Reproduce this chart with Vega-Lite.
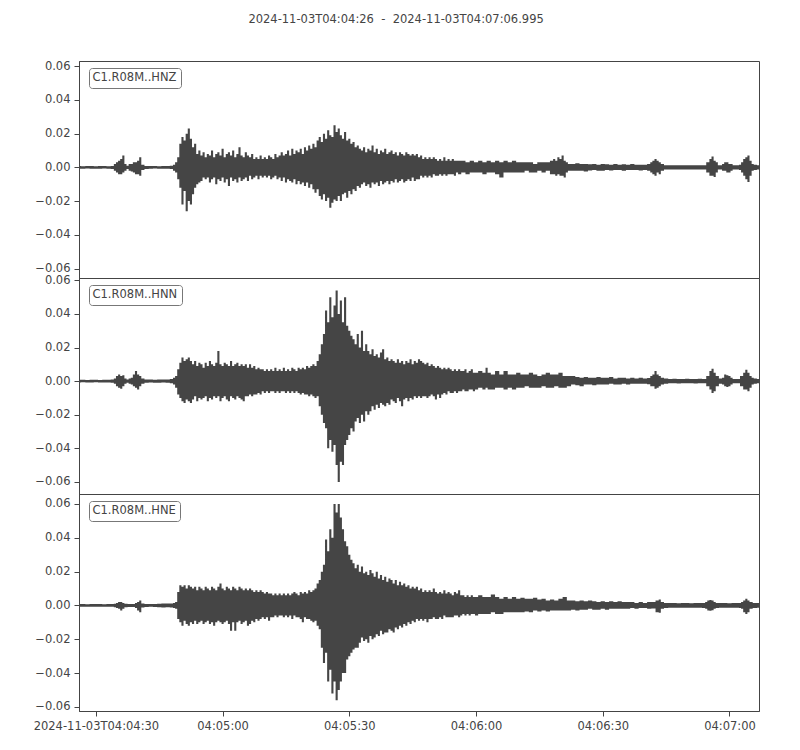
{
  "$schema": "https://vega.github.io/schema/vega-lite/v6.json",
  "description": "Three-component accelerogram, station C1.R08M, 2024-11-03",
  "padding": {"left": 32, "top": 14, "right": 35, "bottom": 5},
  "bounds": "flush",
  "title": {
    "text": "2024-11-03T04:04:26\u00a0 -\u00a0 2024-11-03T04:07:06.995",
    "anchor": "middle",
    "frame": "bounds",
    "font": "DejaVu Sans",
    "fontSize": 11.5,
    "fontWeight": "normal",
    "color": "#444",
    "offset": 34
  },
  "datasets": {
    "Z": [
      {"t":0,"h":0.0008,"l":-0.0008},{"t":1,"h":0.0007,"l":-0.0008},{"t":2,"h":0.0008,"l":-0.0007},{"t":3,"h":0.0008,"l":-0.0008},
      {"t":4,"h":0.0007,"l":-0.0008},{"t":5,"h":0.0008,"l":-0.0008},{"t":6,"h":0.0008,"l":-0.0007},{"t":7,"h":0.0007,"l":-0.0008},
      {"t":8,"h":0.0009,"l":-0.0009},{"t":8.5,"h":0.002,"l":-0.002},{"t":9,"h":0.003,"l":-0.003},{"t":9.5,"h":0.004,"l":-0.004},
      {"t":10,"h":0.005,"l":-0.004},{"t":10.5,"h":0.007,"l":-0.003},{"t":11,"h":0.002,"l":-0.002},{"t":11.5,"h":0.001,"l":-0.001},
      {"t":12,"h":0.002,"l":-0.002},{"t":12.5,"h":0.002,"l":-0.0025},{"t":13,"h":0.003,"l":-0.003},{"t":13.5,"h":0.003,"l":-0.004},
      {"t":14,"h":0.004,"l":-0.004},{"t":14.5,"h":0.006,"l":-0.005},{"t":15,"h":0.0015,"l":-0.0015},{"t":16,"h":0.0009,"l":-0.0009},
      {"t":17,"h":0.0008,"l":-0.0008},{"t":18,"h":0.0008,"l":-0.0007},{"t":19,"h":0.0007,"l":-0.0008},{"t":20,"h":0.0008,"l":-0.0008},
      {"t":21,"h":0.0009,"l":-0.0008},{"t":22,"h":0.001,"l":-0.001},{"t":22.5,"h":0.0015,"l":-0.002},{"t":23,"h":0.003,"l":-0.003},
      {"t":23.5,"h":0.006,"l":-0.007},{"t":24,"h":0.014,"l":-0.012},{"t":24.5,"h":0.018,"l":-0.022},{"t":25,"h":0.016,"l":-0.014},
      {"t":25.5,"h":0.02,"l":-0.026},{"t":26,"h":0.023,"l":-0.02},{"t":26.5,"h":0.017,"l":-0.022},{"t":27,"h":0.012,"l":-0.016},
      {"t":27.5,"h":0.014,"l":-0.012},{"t":28,"h":0.008,"l":-0.01},{"t":28.5,"h":0.01,"l":-0.009},{"t":29,"h":0.007,"l":-0.008},
      {"t":29.5,"h":0.009,"l":-0.006},{"t":30,"h":0.006,"l":-0.007},{"t":30.5,"h":0.008,"l":-0.006},{"t":31,"h":0.007,"l":-0.009},
      {"t":31.5,"h":0.01,"l":-0.007},{"t":32,"h":0.006,"l":-0.006},{"t":32.5,"h":0.008,"l":-0.01},{"t":33,"h":0.009,"l":-0.007},
      {"t":33.5,"h":0.007,"l":-0.008},{"t":34,"h":0.011,"l":-0.006},{"t":34.5,"h":0.006,"l":-0.009},{"t":35,"h":0.008,"l":-0.007},
      {"t":35.5,"h":0.009,"l":-0.011},{"t":36,"h":0.007,"l":-0.006},{"t":36.5,"h":0.01,"l":-0.008},{"t":37,"h":0.006,"l":-0.007},
      {"t":37.5,"h":0.008,"l":-0.009},{"t":38,"h":0.012,"l":-0.006},{"t":38.5,"h":0.007,"l":-0.008},{"t":39,"h":0.006,"l":-0.007},
      {"t":39.5,"h":0.009,"l":-0.006},{"t":40,"h":0.007,"l":-0.008},{"t":40.5,"h":0.006,"l":-0.005},{"t":41,"h":0.008,"l":-0.007},
      {"t":41.5,"h":0.005,"l":-0.006},{"t":42,"h":0.006,"l":-0.005},{"t":42.5,"h":0.005,"l":-0.007},{"t":43,"h":0.007,"l":-0.005},
      {"t":43.5,"h":0.005,"l":-0.006},{"t":44,"h":0.006,"l":-0.005},{"t":44.5,"h":0.005,"l":-0.006},{"t":45,"h":0.007,"l":-0.005},
      {"t":45.5,"h":0.006,"l":-0.007},{"t":46,"h":0.005,"l":-0.006},{"t":46.5,"h":0.008,"l":-0.005},{"t":47,"h":0.006,"l":-0.007},
      {"t":47.5,"h":0.007,"l":-0.006},{"t":48,"h":0.009,"l":-0.008},{"t":48.5,"h":0.007,"l":-0.006},{"t":49,"h":0.008,"l":-0.009},
      {"t":49.5,"h":0.01,"l":-0.007},{"t":50,"h":0.007,"l":-0.008},{"t":50.5,"h":0.011,"l":-0.009},{"t":51,"h":0.008,"l":-0.007},
      {"t":51.5,"h":0.01,"l":-0.01},{"t":52,"h":0.009,"l":-0.008},{"t":52.5,"h":0.011,"l":-0.01},{"t":53,"h":0.008,"l":-0.009},
      {"t":53.5,"h":0.012,"l":-0.011},{"t":54,"h":0.01,"l":-0.009},{"t":54.5,"h":0.013,"l":-0.012},{"t":55,"h":0.011,"l":-0.01},
      {"t":55.5,"h":0.014,"l":-0.013},{"t":56,"h":0.012,"l":-0.015},{"t":56.5,"h":0.016,"l":-0.013},{"t":57,"h":0.018,"l":-0.017},
      {"t":57.5,"h":0.015,"l":-0.019},{"t":58,"h":0.02,"l":-0.016},{"t":58.5,"h":0.017,"l":-0.02},{"t":59,"h":0.022,"l":-0.018},
      {"t":59.5,"h":0.019,"l":-0.024},{"t":60,"h":0.018,"l":-0.021},{"t":60.5,"h":0.025,"l":-0.019},{"t":61,"h":0.021,"l":-0.02},
      {"t":61.5,"h":0.023,"l":-0.017},{"t":62,"h":0.019,"l":-0.02},{"t":62.5,"h":0.017,"l":-0.016},{"t":63,"h":0.021,"l":-0.015},
      {"t":63.5,"h":0.016,"l":-0.018},{"t":64,"h":0.017,"l":-0.014},{"t":64.5,"h":0.014,"l":-0.016},{"t":65,"h":0.015,"l":-0.013},
      {"t":65.5,"h":0.012,"l":-0.014},{"t":66,"h":0.013,"l":-0.011},{"t":66.5,"h":0.011,"l":-0.012},{"t":67,"h":0.01,"l":-0.01},
      {"t":67.5,"h":0.012,"l":-0.009},{"t":68,"h":0.009,"l":-0.011},{"t":68.5,"h":0.011,"l":-0.01},{"t":69,"h":0.01,"l":-0.012},
      {"t":69.5,"h":0.013,"l":-0.009},{"t":70,"h":0.009,"l":-0.01},{"t":70.5,"h":0.011,"l":-0.009},{"t":71,"h":0.008,"l":-0.011},
      {"t":71.5,"h":0.01,"l":-0.008},{"t":72,"h":0.009,"l":-0.01},{"t":72.5,"h":0.011,"l":-0.009},{"t":73,"h":0.008,"l":-0.008},
      {"t":73.5,"h":0.009,"l":-0.01},{"t":74,"h":0.01,"l":-0.008},{"t":74.5,"h":0.008,"l":-0.009},{"t":75,"h":0.009,"l":-0.007},
      {"t":75.5,"h":0.007,"l":-0.009},{"t":76,"h":0.009,"l":-0.008},{"t":76.5,"h":0.008,"l":-0.007},{"t":77,"h":0.007,"l":-0.009},
      {"t":77.5,"h":0.009,"l":-0.008},{"t":78,"h":0.008,"l":-0.007},{"t":78.5,"h":0.007,"l":-0.008},{"t":79,"h":0.008,"l":-0.006},
      {"t":79.5,"h":0.007,"l":-0.008},{"t":80,"h":0.008,"l":-0.007},{"t":80.5,"h":0.006,"l":-0.007},{"t":81,"h":0.007,"l":-0.005},
      {"t":81.5,"h":0.005,"l":-0.006},{"t":82,"h":0.006,"l":-0.005},{"t":82.5,"h":0.005,"l":-0.006},{"t":83,"h":0.006,"l":-0.005},
      {"t":83.5,"h":0.005,"l":-0.006},{"t":84,"h":0.006,"l":-0.004},{"t":84.5,"h":0.005,"l":-0.005},{"t":85,"h":0.004,"l":-0.005},
      {"t":85.5,"h":0.005,"l":-0.004},{"t":86,"h":0.004,"l":-0.005},{"t":86.5,"h":0.006,"l":-0.004},{"t":87,"h":0.004,"l":-0.005},
      {"t":87.5,"h":0.005,"l":-0.004},{"t":88,"h":0.004,"l":-0.004},{"t":88.5,"h":0.005,"l":-0.004},{"t":89,"h":0.004,"l":-0.005},
      {"t":89.5,"h":0.004,"l":-0.003},{"t":90,"h":0.004,"l":-0.004},{"t":91,"h":0.004,"l":-0.003},{"t":92,"h":0.003,"l":-0.004},
      {"t":93,"h":0.004,"l":-0.003},{"t":94,"h":0.003,"l":-0.003},{"t":95,"h":0.004,"l":-0.003},{"t":96,"h":0.003,"l":-0.004},
      {"t":97,"h":0.004,"l":-0.003},{"t":98,"h":0.003,"l":-0.003},{"t":99,"h":0.004,"l":-0.004},{"t":100,"h":0.003,"l":-0.006},
      {"t":101,"h":0.004,"l":-0.003},{"t":102,"h":0.003,"l":-0.003},{"t":103,"h":0.004,"l":-0.003},{"t":104,"h":0.003,"l":-0.003},
      {"t":105,"h":0.003,"l":-0.003},{"t":106,"h":0.003,"l":-0.002},{"t":107,"h":0.003,"l":-0.003},{"t":108,"h":0.002,"l":-0.003},
      {"t":109,"h":0.003,"l":-0.002},{"t":110,"h":0.003,"l":-0.003},{"t":111,"h":0.003,"l":-0.002},{"t":112,"h":0.004,"l":-0.004},
      {"t":112.5,"h":0.005,"l":-0.004},{"t":113,"h":0.004,"l":-0.005},{"t":113.5,"h":0.006,"l":-0.004},{"t":114,"h":0.005,"l":-0.005},
      {"t":114.5,"h":0.007,"l":-0.005},{"t":115,"h":0.004,"l":-0.006},{"t":115.5,"h":0.003,"l":-0.003},{"t":116,"h":0.002,"l":-0.002},
      {"t":117,"h":0.002,"l":-0.002},{"t":118,"h":0.0025,"l":-0.002},{"t":119,"h":0.002,"l":-0.002},{"t":120,"h":0.002,"l":-0.0025},
      {"t":121,"h":0.0018,"l":-0.0018},{"t":122,"h":0.002,"l":-0.0015},{"t":123,"h":0.0015,"l":-0.002},{"t":124,"h":0.002,"l":-0.002},
      {"t":125,"h":0.0018,"l":-0.0015},{"t":126,"h":0.0015,"l":-0.0018},{"t":127,"h":0.002,"l":-0.0015},{"t":128,"h":0.0015,"l":-0.0015},
      {"t":129,"h":0.0018,"l":-0.002},{"t":130,"h":0.0015,"l":-0.0015},{"t":131,"h":0.002,"l":-0.0015},{"t":132,"h":0.0015,"l":-0.0015},
      {"t":133,"h":0.0015,"l":-0.0018},{"t":134,"h":0.0015,"l":-0.0015},{"t":135,"h":0.002,"l":-0.002},{"t":135.5,"h":0.003,"l":-0.003},
      {"t":136,"h":0.004,"l":-0.004},{"t":136.5,"h":0.005,"l":-0.005},{"t":137,"h":0.004,"l":-0.003},{"t":137.5,"h":0.003,"l":-0.004},
      {"t":138,"h":0.002,"l":-0.002},{"t":139,"h":0.0013,"l":-0.0013},{"t":140,"h":0.0012,"l":-0.0012},{"t":141,"h":0.0013,"l":-0.0012},
      {"t":142,"h":0.0012,"l":-0.0013},{"t":143,"h":0.0012,"l":-0.0012},{"t":144,"h":0.0013,"l":-0.0012},{"t":145,"h":0.0012,"l":-0.0012},
      {"t":146,"h":0.0012,"l":-0.0013},{"t":147,"h":0.0013,"l":-0.0012},{"t":148,"h":0.0012,"l":-0.0012},{"t":149,"h":0.003,"l":-0.003},
      {"t":149.5,"h":0.005,"l":-0.005},{"t":150,"h":0.0065,"l":-0.005},{"t":150.5,"h":0.004,"l":-0.0057},{"t":151,"h":0.003,"l":-0.003},
      {"t":151.5,"h":0.0013,"l":-0.0013},{"t":152,"h":0.0013,"l":-0.0013},{"t":152.5,"h":0.002,"l":-0.002},{"t":153,"h":0.003,"l":-0.002},
      {"t":153.5,"h":0.003,"l":-0.003},{"t":154,"h":0.002,"l":-0.003},{"t":154.5,"h":0.002,"l":-0.002},{"t":155,"h":0.0013,"l":-0.0013},
      {"t":156,"h":0.0013,"l":-0.0013},{"t":156.5,"h":0.0015,"l":-0.0015},{"t":157,"h":0.003,"l":-0.003},{"t":157.5,"h":0.005,"l":-0.005},
      {"t":158,"h":0.006,"l":-0.007},{"t":158.5,"h":0.007,"l":-0.0087},{"t":159,"h":0.004,"l":-0.005},{"t":159.5,"h":0.002,"l":-0.002},
      {"t":160,"h":0.0015,"l":-0.0015},{"t":160.99,"h":0.0012,"l":-0.0012}
    ],
    "N": [
      {"t":0,"h":0.0008,"l":-0.0008},{"t":1,"h":0.0008,"l":-0.0007},{"t":2,"h":0.0007,"l":-0.0008},{"t":3,"h":0.0008,"l":-0.0008},
      {"t":4,"h":0.0008,"l":-0.0007},{"t":5,"h":0.0007,"l":-0.0008},{"t":6,"h":0.0008,"l":-0.0008},{"t":7,"h":0.0008,"l":-0.0008},
      {"t":8,"h":0.0009,"l":-0.0009},{"t":8.5,"h":0.0015,"l":-0.0015},{"t":9,"h":0.003,"l":-0.003},{"t":9.5,"h":0.004,"l":-0.004},
      {"t":10,"h":0.003,"l":-0.0045},{"t":10.5,"h":0.0035,"l":-0.003},{"t":11,"h":0.0015,"l":-0.0015},{"t":11.5,"h":0.001,"l":-0.001},
      {"t":12,"h":0.0015,"l":-0.0015},{"t":12.5,"h":0.002,"l":-0.002},{"t":13,"h":0.004,"l":-0.003},{"t":13.5,"h":0.006,"l":-0.004},
      {"t":14,"h":0.004,"l":-0.005},{"t":14.5,"h":0.003,"l":-0.003},{"t":15,"h":0.0015,"l":-0.0015},{"t":16,"h":0.0009,"l":-0.0009},
      {"t":17,"h":0.0009,"l":-0.0008},{"t":18,"h":0.0008,"l":-0.0009},{"t":19,"h":0.0009,"l":-0.0009},{"t":20,"h":0.0009,"l":-0.0008},
      {"t":21,"h":0.001,"l":-0.0009},{"t":22,"h":0.0012,"l":-0.0012},{"t":22.5,"h":0.002,"l":-0.002},{"t":23,"h":0.003,"l":-0.004},
      {"t":23.5,"h":0.007,"l":-0.008},{"t":24,"h":0.011,"l":-0.01},{"t":24.5,"h":0.014,"l":-0.012},{"t":25,"h":0.012,"l":-0.013},
      {"t":25.5,"h":0.013,"l":-0.011},{"t":26,"h":0.014,"l":-0.012},{"t":26.5,"h":0.012,"l":-0.013},{"t":27,"h":0.01,"l":-0.011},
      {"t":27.5,"h":0.012,"l":-0.009},{"t":28,"h":0.009,"l":-0.012},{"t":28.5,"h":0.011,"l":-0.01},{"t":29,"h":0.01,"l":-0.011},
      {"t":29.5,"h":0.008,"l":-0.01},{"t":30,"h":0.011,"l":-0.009},{"t":30.5,"h":0.009,"l":-0.012},{"t":31,"h":0.012,"l":-0.01},
      {"t":31.5,"h":0.01,"l":-0.011},{"t":32,"h":0.009,"l":-0.009},{"t":32.5,"h":0.011,"l":-0.01},{"t":33,"h":0.018,"l":-0.009},
      {"t":33.5,"h":0.01,"l":-0.012},{"t":34,"h":0.009,"l":-0.01},{"t":34.5,"h":0.011,"l":-0.009},{"t":35,"h":0.01,"l":-0.011},
      {"t":35.5,"h":0.009,"l":-0.012},{"t":36,"h":0.012,"l":-0.009},{"t":36.5,"h":0.009,"l":-0.01},{"t":37,"h":0.01,"l":-0.011},
      {"t":37.5,"h":0.011,"l":-0.009},{"t":38,"h":0.009,"l":-0.01},{"t":38.5,"h":0.01,"l":-0.011},{"t":39,"h":0.009,"l":-0.012},
      {"t":39.5,"h":0.01,"l":-0.009},{"t":40,"h":0.008,"l":-0.009},{"t":40.5,"h":0.01,"l":-0.008},{"t":41,"h":0.008,"l":-0.009},
      {"t":41.5,"h":0.009,"l":-0.008},{"t":42,"h":0.007,"l":-0.008},{"t":42.5,"h":0.008,"l":-0.007},{"t":43,"h":0.007,"l":-0.008},
      {"t":43.5,"h":0.007,"l":-0.006},{"t":44,"h":0.006,"l":-0.007},{"t":44.5,"h":0.007,"l":-0.006},{"t":45,"h":0.006,"l":-0.007},
      {"t":45.5,"h":0.007,"l":-0.006},{"t":46,"h":0.006,"l":-0.006},{"t":46.5,"h":0.008,"l":-0.007},{"t":47,"h":0.006,"l":-0.006},
      {"t":47.5,"h":0.007,"l":-0.007},{"t":48,"h":0.006,"l":-0.006},{"t":48.5,"h":0.008,"l":-0.006},{"t":49,"h":0.006,"l":-0.007},
      {"t":49.5,"h":0.007,"l":-0.006},{"t":50,"h":0.006,"l":-0.007},{"t":50.5,"h":0.008,"l":-0.006},{"t":51,"h":0.007,"l":-0.007},
      {"t":51.5,"h":0.006,"l":-0.006},{"t":52,"h":0.008,"l":-0.007},{"t":52.5,"h":0.007,"l":-0.008},{"t":53,"h":0.008,"l":-0.007},
      {"t":53.5,"h":0.007,"l":-0.008},{"t":54,"h":0.009,"l":-0.008},{"t":54.5,"h":0.008,"l":-0.009},{"t":55,"h":0.009,"l":-0.008},
      {"t":55.5,"h":0.01,"l":-0.009},{"t":56,"h":0.009,"l":-0.01},{"t":56.5,"h":0.012,"l":-0.009},{"t":57,"h":0.016,"l":-0.015},
      {"t":57.5,"h":0.022,"l":-0.02},{"t":58,"h":0.028,"l":-0.025},{"t":58.5,"h":0.042,"l":-0.028},{"t":59,"h":0.035,"l":-0.04},
      {"t":59.5,"h":0.05,"l":-0.035},{"t":60,"h":0.038,"l":-0.042},{"t":60.5,"h":0.045,"l":-0.038},{"t":61,"h":0.054,"l":-0.05},
      {"t":61.5,"h":0.04,"l":-0.06},{"t":62,"h":0.048,"l":-0.048},{"t":62.5,"h":0.035,"l":-0.05},{"t":63,"h":0.05,"l":-0.038},
      {"t":63.5,"h":0.033,"l":-0.035},{"t":64,"h":0.03,"l":-0.032},{"t":64.5,"h":0.027,"l":-0.028},{"t":65,"h":0.025,"l":-0.03},
      {"t":65.5,"h":0.022,"l":-0.024},{"t":66,"h":0.028,"l":-0.022},{"t":66.5,"h":0.02,"l":-0.025},{"t":67,"h":0.03,"l":-0.02},
      {"t":67.5,"h":0.018,"l":-0.024},{"t":68,"h":0.022,"l":-0.018},{"t":68.5,"h":0.018,"l":-0.02},{"t":69,"h":0.016,"l":-0.018},
      {"t":69.5,"h":0.019,"l":-0.015},{"t":70,"h":0.015,"l":-0.017},{"t":70.5,"h":0.016,"l":-0.014},{"t":71,"h":0.014,"l":-0.016},
      {"t":71.5,"h":0.017,"l":-0.013},{"t":72,"h":0.019,"l":-0.014},{"t":72.5,"h":0.013,"l":-0.015},{"t":73,"h":0.014,"l":-0.013},
      {"t":73.5,"h":0.012,"l":-0.014},{"t":74,"h":0.013,"l":-0.011},{"t":74.5,"h":0.012,"l":-0.012},{"t":75,"h":0.011,"l":-0.013},
      {"t":75.5,"h":0.013,"l":-0.01},{"t":76,"h":0.011,"l":-0.012},{"t":76.5,"h":0.012,"l":-0.015},{"t":77,"h":0.01,"l":-0.011},
      {"t":77.5,"h":0.012,"l":-0.01},{"t":78,"h":0.011,"l":-0.012},{"t":78.5,"h":0.013,"l":-0.01},{"t":79,"h":0.01,"l":-0.011},
      {"t":79.5,"h":0.012,"l":-0.009},{"t":80,"h":0.011,"l":-0.01},{"t":80.5,"h":0.013,"l":-0.009},{"t":81,"h":0.012,"l":-0.01},
      {"t":81.5,"h":0.011,"l":-0.009},{"t":82,"h":0.01,"l":-0.009},{"t":82.5,"h":0.011,"l":-0.01},{"t":83,"h":0.009,"l":-0.009},
      {"t":83.5,"h":0.01,"l":-0.008},{"t":84,"h":0.009,"l":-0.009},{"t":84.5,"h":0.008,"l":-0.011},{"t":85,"h":0.009,"l":-0.008},
      {"t":85.5,"h":0.008,"l":-0.01},{"t":86,"h":0.007,"l":-0.008},{"t":86.5,"h":0.008,"l":-0.007},{"t":87,"h":0.007,"l":-0.008},
      {"t":87.5,"h":0.008,"l":-0.006},{"t":88,"h":0.007,"l":-0.007},{"t":88.5,"h":0.006,"l":-0.007},{"t":89,"h":0.007,"l":-0.006},
      {"t":89.5,"h":0.006,"l":-0.007},{"t":90,"h":0.007,"l":-0.006},{"t":90.5,"h":0.006,"l":-0.006},{"t":91,"h":0.006,"l":-0.005},
      {"t":91.5,"h":0.007,"l":-0.006},{"t":92,"h":0.005,"l":-0.006},{"t":92.5,"h":0.006,"l":-0.005},{"t":93,"h":0.007,"l":-0.005},
      {"t":93.5,"h":0.005,"l":-0.006},{"t":94,"h":0.005,"l":-0.005},{"t":95,"h":0.006,"l":-0.004},{"t":96,"h":0.005,"l":-0.005},
      {"t":96.5,"h":0.008,"l":-0.004},{"t":97,"h":0.005,"l":-0.005},{"t":98,"h":0.004,"l":-0.005},{"t":99,"h":0.006,"l":-0.004},
      {"t":100,"h":0.004,"l":-0.004},{"t":101,"h":0.006,"l":-0.005},{"t":102,"h":0.004,"l":-0.004},{"t":103,"h":0.004,"l":-0.005},
      {"t":104,"h":0.005,"l":-0.004},{"t":105,"h":0.004,"l":-0.004},{"t":106,"h":0.004,"l":-0.003},{"t":107,"h":0.005,"l":-0.004},
      {"t":108,"h":0.004,"l":-0.004},{"t":109,"h":0.003,"l":-0.004},{"t":110,"h":0.004,"l":-0.003},{"t":111,"h":0.005,"l":-0.004},
      {"t":112,"h":0.004,"l":-0.004},{"t":113,"h":0.004,"l":-0.003},{"t":114,"h":0.005,"l":-0.004},{"t":115,"h":0.003,"l":-0.004},
      {"t":116,"h":0.003,"l":-0.003},{"t":117,"h":0.003,"l":-0.002},{"t":118,"h":0.0025,"l":-0.0025},{"t":119,"h":0.002,"l":-0.003},
      {"t":120,"h":0.0025,"l":-0.002},{"t":121,"h":0.002,"l":-0.002},{"t":122,"h":0.002,"l":-0.0025},{"t":123,"h":0.0025,"l":-0.002},
      {"t":124,"h":0.002,"l":-0.002},{"t":125,"h":0.002,"l":-0.002},{"t":126,"h":0.0025,"l":-0.0015},{"t":127,"h":0.0015,"l":-0.002},
      {"t":128,"h":0.002,"l":-0.002},{"t":129,"h":0.002,"l":-0.0015},{"t":130,"h":0.0015,"l":-0.002},{"t":131,"h":0.002,"l":-0.0015},
      {"t":132,"h":0.0015,"l":-0.0015},{"t":133,"h":0.002,"l":-0.0015},{"t":134,"h":0.0015,"l":-0.0015},{"t":135,"h":0.0018,"l":-0.0018},
      {"t":135.5,"h":0.003,"l":-0.003},{"t":136,"h":0.004,"l":-0.003},{"t":136.5,"h":0.006,"l":-0.0045},{"t":137,"h":0.004,"l":-0.004},
      {"t":137.5,"h":0.003,"l":-0.003},{"t":138,"h":0.002,"l":-0.002},{"t":139,"h":0.0015,"l":-0.0015},{"t":140,"h":0.0013,"l":-0.0013},
      {"t":141,"h":0.0014,"l":-0.0013},{"t":142,"h":0.0013,"l":-0.0014},{"t":143,"h":0.0013,"l":-0.0013},{"t":144,"h":0.0014,"l":-0.0013},
      {"t":145,"h":0.0013,"l":-0.0013},{"t":146,"h":0.0013,"l":-0.0014},{"t":147,"h":0.0014,"l":-0.0013},{"t":148,"h":0.0013,"l":-0.0013},
      {"t":149,"h":0.003,"l":-0.003},{"t":149.5,"h":0.006,"l":-0.005},{"t":150,"h":0.0074,"l":-0.007},{"t":150.5,"h":0.005,"l":-0.006},
      {"t":151,"h":0.003,"l":-0.003},{"t":152,"h":0.0015,"l":-0.0015},{"t":152.5,"h":0.002,"l":-0.002},{"t":153,"h":0.004,"l":-0.003},
      {"t":153.5,"h":0.0035,"l":-0.0035},{"t":154,"h":0.003,"l":-0.003},{"t":154.5,"h":0.002,"l":-0.002},{"t":155,"h":0.0013,"l":-0.0013},
      {"t":156,"h":0.0013,"l":-0.0013},{"t":157,"h":0.003,"l":-0.003},{"t":157.5,"h":0.005,"l":-0.005},{"t":158,"h":0.0068,"l":-0.005},
      {"t":158.5,"h":0.005,"l":-0.006},{"t":159,"h":0.003,"l":-0.004},{"t":159.5,"h":0.002,"l":-0.002},{"t":160,"h":0.0015,"l":-0.0015},
      {"t":160.99,"h":0.0013,"l":-0.0013}
    ],
    "E": [
      {"t":0,"h":0.0008,"l":-0.0008},{"t":1,"h":0.0008,"l":-0.0008},{"t":2,"h":0.0007,"l":-0.0008},{"t":3,"h":0.0008,"l":-0.0007},
      {"t":4,"h":0.0008,"l":-0.0008},{"t":5,"h":0.0008,"l":-0.0008},{"t":6,"h":0.0007,"l":-0.0008},{"t":7,"h":0.0008,"l":-0.0008},
      {"t":8,"h":0.0008,"l":-0.0008},{"t":8.5,"h":0.001,"l":-0.001},{"t":9,"h":0.0015,"l":-0.0015},{"t":9.5,"h":0.002,"l":-0.002},
      {"t":10,"h":0.002,"l":-0.003},{"t":10.5,"h":0.0015,"l":-0.002},{"t":11,"h":0.001,"l":-0.001},{"t":12,"h":0.0009,"l":-0.0009},
      {"t":13,"h":0.0009,"l":-0.0009},{"t":13.5,"h":0.0015,"l":-0.0015},{"t":14,"h":0.002,"l":-0.003},{"t":14.5,"h":0.003,"l":-0.004},
      {"t":15,"h":0.0012,"l":-0.0012},{"t":16,"h":0.0009,"l":-0.0009},{"t":17,"h":0.0009,"l":-0.0008},{"t":18,"h":0.0009,"l":-0.0009},
      {"t":19,"h":0.001,"l":-0.001},{"t":20,"h":0.0012,"l":-0.0012},{"t":21,"h":0.0012,"l":-0.001},{"t":22,"h":0.0012,"l":-0.0012},
      {"t":22.5,"h":0.0015,"l":-0.0015},{"t":23,"h":0.002,"l":-0.002},{"t":23.5,"h":0.008,"l":-0.008},{"t":24,"h":0.012,"l":-0.01},
      {"t":24.5,"h":0.011,"l":-0.012},{"t":25,"h":0.012,"l":-0.009},{"t":25.5,"h":0.01,"l":-0.011},{"t":26,"h":0.012,"l":-0.012},
      {"t":26.5,"h":0.011,"l":-0.01},{"t":27,"h":0.01,"l":-0.011},{"t":27.5,"h":0.011,"l":-0.009},{"t":28,"h":0.009,"l":-0.011},
      {"t":28.5,"h":0.011,"l":-0.01},{"t":29,"h":0.01,"l":-0.009},{"t":29.5,"h":0.009,"l":-0.011},{"t":30,"h":0.011,"l":-0.01},
      {"t":30.5,"h":0.01,"l":-0.009},{"t":31,"h":0.009,"l":-0.011},{"t":31.5,"h":0.011,"l":-0.01},{"t":32,"h":0.01,"l":-0.012},
      {"t":32.5,"h":0.009,"l":-0.01},{"t":33,"h":0.011,"l":-0.009},{"t":33.5,"h":0.013,"l":-0.01},{"t":34,"h":0.01,"l":-0.011},
      {"t":34.5,"h":0.009,"l":-0.01},{"t":35,"h":0.011,"l":-0.009},{"t":35.5,"h":0.01,"l":-0.011},{"t":36,"h":0.009,"l":-0.015},
      {"t":36.5,"h":0.011,"l":-0.01},{"t":37,"h":0.01,"l":-0.015},{"t":37.5,"h":0.009,"l":-0.01},{"t":38,"h":0.011,"l":-0.009},
      {"t":38.5,"h":0.01,"l":-0.011},{"t":39,"h":0.009,"l":-0.01},{"t":39.5,"h":0.01,"l":-0.009},{"t":40,"h":0.009,"l":-0.012},
      {"t":40.5,"h":0.01,"l":-0.011},{"t":41,"h":0.009,"l":-0.009},{"t":41.5,"h":0.008,"l":-0.01},{"t":42,"h":0.009,"l":-0.008},
      {"t":42.5,"h":0.008,"l":-0.009},{"t":43,"h":0.009,"l":-0.008},{"t":43.5,"h":0.008,"l":-0.007},{"t":44,"h":0.007,"l":-0.008},
      {"t":44.5,"h":0.008,"l":-0.007},{"t":45,"h":0.007,"l":-0.009},{"t":45.5,"h":0.007,"l":-0.007},{"t":46,"h":0.006,"l":-0.007},
      {"t":46.5,"h":0.007,"l":-0.006},{"t":47,"h":0.006,"l":-0.007},{"t":47.5,"h":0.007,"l":-0.006},{"t":48,"h":0.006,"l":-0.006},
      {"t":48.5,"h":0.007,"l":-0.007},{"t":49,"h":0.006,"l":-0.006},{"t":49.5,"h":0.007,"l":-0.007},{"t":50,"h":0.006,"l":-0.006},
      {"t":50.5,"h":0.007,"l":-0.008},{"t":51,"h":0.008,"l":-0.006},{"t":51.5,"h":0.007,"l":-0.007},{"t":52,"h":0.006,"l":-0.007},
      {"t":52.5,"h":0.008,"l":-0.008},{"t":53,"h":0.007,"l":-0.01},{"t":53.5,"h":0.008,"l":-0.007},{"t":54,"h":0.007,"l":-0.008},
      {"t":54.5,"h":0.009,"l":-0.008},{"t":55,"h":0.008,"l":-0.009},{"t":55.5,"h":0.009,"l":-0.01},{"t":56,"h":0.01,"l":-0.009},
      {"t":56.5,"h":0.013,"l":-0.012},{"t":57,"h":0.015,"l":-0.014},{"t":57.5,"h":0.02,"l":-0.025},{"t":58,"h":0.024,"l":-0.034},
      {"t":58.5,"h":0.039,"l":-0.028},{"t":59,"h":0.032,"l":-0.045},{"t":59.5,"h":0.045,"l":-0.038},{"t":60,"h":0.04,"l":-0.052},
      {"t":60.5,"h":0.06,"l":-0.045},{"t":61,"h":0.055,"l":-0.056},{"t":61.5,"h":0.06,"l":-0.05},{"t":62,"h":0.052,"l":-0.045},
      {"t":62.5,"h":0.045,"l":-0.04},{"t":63,"h":0.038,"l":-0.04},{"t":63.5,"h":0.035,"l":-0.032},{"t":64,"h":0.03,"l":-0.03},
      {"t":64.5,"h":0.027,"l":-0.028},{"t":65,"h":0.025,"l":-0.026},{"t":65.5,"h":0.022,"l":-0.025},{"t":66,"h":0.024,"l":-0.025},
      {"t":66.5,"h":0.02,"l":-0.022},{"t":67,"h":0.023,"l":-0.019},{"t":67.5,"h":0.019,"l":-0.021},{"t":68,"h":0.02,"l":-0.02},
      {"t":68.5,"h":0.018,"l":-0.022},{"t":69,"h":0.021,"l":-0.018},{"t":69.5,"h":0.019,"l":-0.02},{"t":70,"h":0.017,"l":-0.019},
      {"t":70.5,"h":0.02,"l":-0.017},{"t":71,"h":0.016,"l":-0.018},{"t":71.5,"h":0.018,"l":-0.015},{"t":72,"h":0.015,"l":-0.017},
      {"t":72.5,"h":0.017,"l":-0.016},{"t":73,"h":0.014,"l":-0.016},{"t":73.5,"h":0.016,"l":-0.014},{"t":74,"h":0.015,"l":-0.015},
      {"t":74.5,"h":0.013,"l":-0.016},{"t":75,"h":0.015,"l":-0.013},{"t":75.5,"h":0.012,"l":-0.014},{"t":76,"h":0.014,"l":-0.012},
      {"t":76.5,"h":0.012,"l":-0.013},{"t":77,"h":0.013,"l":-0.011},{"t":77.5,"h":0.011,"l":-0.012},{"t":78,"h":0.012,"l":-0.01},
      {"t":78.5,"h":0.01,"l":-0.011},{"t":79,"h":0.011,"l":-0.009},{"t":79.5,"h":0.01,"l":-0.01},{"t":80,"h":0.011,"l":-0.008},
      {"t":80.5,"h":0.009,"l":-0.009},{"t":81,"h":0.01,"l":-0.008},{"t":81.5,"h":0.008,"l":-0.009},{"t":82,"h":0.009,"l":-0.008},
      {"t":82.5,"h":0.008,"l":-0.01},{"t":83,"h":0.009,"l":-0.008},{"t":83.5,"h":0.008,"l":-0.008},{"t":84,"h":0.01,"l":-0.007},
      {"t":84.5,"h":0.008,"l":-0.008},{"t":85,"h":0.007,"l":-0.008},{"t":85.5,"h":0.008,"l":-0.007},{"t":86,"h":0.007,"l":-0.008},
      {"t":86.5,"h":0.009,"l":-0.006},{"t":87,"h":0.007,"l":-0.007},{"t":87.5,"h":0.008,"l":-0.007},{"t":88,"h":0.007,"l":-0.007},
      {"t":88.5,"h":0.006,"l":-0.007},{"t":89,"h":0.008,"l":-0.006},{"t":89.5,"h":0.007,"l":-0.006},{"t":90,"h":0.009,"l":-0.007},
      {"t":90.5,"h":0.006,"l":-0.006},{"t":91,"h":0.006,"l":-0.005},{"t":91.5,"h":0.005,"l":-0.006},{"t":92,"h":0.006,"l":-0.005},
      {"t":92.5,"h":0.005,"l":-0.006},{"t":93,"h":0.006,"l":-0.005},{"t":93.5,"h":0.005,"l":-0.005},{"t":94,"h":0.005,"l":-0.006},
      {"t":95,"h":0.006,"l":-0.005},{"t":96,"h":0.005,"l":-0.005},{"t":97,"h":0.005,"l":-0.005},{"t":98,"h":0.0065,"l":-0.004},
      {"t":99,"h":0.005,"l":-0.005},{"t":100,"h":0.004,"l":-0.005},{"t":101,"h":0.005,"l":-0.004},{"t":102,"h":0.004,"l":-0.004},
      {"t":103,"h":0.005,"l":-0.004},{"t":104,"h":0.004,"l":-0.004},{"t":105,"h":0.0045,"l":-0.004},{"t":106,"h":0.004,"l":-0.0035},
      {"t":107,"h":0.004,"l":-0.004},{"t":108,"h":0.0045,"l":-0.003},{"t":109,"h":0.0035,"l":-0.0035},{"t":110,"h":0.004,"l":-0.003},
      {"t":111,"h":0.003,"l":-0.0035},{"t":112,"h":0.0035,"l":-0.003},{"t":113,"h":0.003,"l":-0.003},{"t":114,"h":0.004,"l":-0.003},
      {"t":115,"h":0.005,"l":-0.003},{"t":116,"h":0.003,"l":-0.003},{"t":117,"h":0.003,"l":-0.0025},{"t":118,"h":0.0025,"l":-0.003},
      {"t":119,"h":0.003,"l":-0.0025},{"t":120,"h":0.0025,"l":-0.0025},{"t":121,"h":0.003,"l":-0.002},{"t":122,"h":0.0025,"l":-0.0025},
      {"t":123,"h":0.002,"l":-0.0025},{"t":124,"h":0.0025,"l":-0.002},{"t":125,"h":0.002,"l":-0.0025},{"t":126,"h":0.0025,"l":-0.002},
      {"t":127,"h":0.002,"l":-0.002},{"t":128,"h":0.0025,"l":-0.002},{"t":129,"h":0.002,"l":-0.002},{"t":130,"h":0.002,"l":-0.002},
      {"t":131,"h":0.002,"l":-0.0015},{"t":132,"h":0.0015,"l":-0.002},{"t":133,"h":0.002,"l":-0.0015},{"t":134,"h":0.0015,"l":-0.0015},
      {"t":135,"h":0.002,"l":-0.002},{"t":136,"h":0.002,"l":-0.0018},{"t":137,"h":0.003,"l":-0.004},{"t":137.5,"h":0.0035,"l":-0.0043},
      {"t":138,"h":0.002,"l":-0.002},{"t":139,"h":0.0015,"l":-0.0015},{"t":140,"h":0.0014,"l":-0.0014},{"t":141,"h":0.0014,"l":-0.0013},
      {"t":142,"h":0.0013,"l":-0.0014},{"t":143,"h":0.0014,"l":-0.0014},{"t":144,"h":0.0014,"l":-0.0013},{"t":145,"h":0.0013,"l":-0.0014},
      {"t":146,"h":0.0014,"l":-0.0014},{"t":147,"h":0.0014,"l":-0.0013},{"t":148,"h":0.0015,"l":-0.0015},{"t":148.5,"h":0.002,"l":-0.002},
      {"t":149,"h":0.003,"l":-0.003},{"t":149.5,"h":0.0032,"l":-0.0032},{"t":150,"h":0.003,"l":-0.0028},{"t":150.5,"h":0.002,"l":-0.002},
      {"t":151,"h":0.0015,"l":-0.0015},{"t":152,"h":0.0014,"l":-0.0014},{"t":153,"h":0.0014,"l":-0.0013},{"t":154,"h":0.0013,"l":-0.0014},
      {"t":155,"h":0.0014,"l":-0.0014},{"t":156,"h":0.0014,"l":-0.0014},{"t":156.5,"h":0.0015,"l":-0.0015},{"t":157,"h":0.002,"l":-0.002},
      {"t":157.5,"h":0.003,"l":-0.004},{"t":158,"h":0.004,"l":-0.005},{"t":158.5,"h":0.003,"l":-0.004},{"t":159,"h":0.002,"l":-0.002},
      {"t":160,"h":0.0015,"l":-0.0015},{"t":160.99,"h":0.0014,"l":-0.0014}
    ]
  },
  "vconcat": [
    {
      "width": 680,
      "height": 217,
      "encoding": {
        "x": {"field": "t", "type": "quantitative", "axis": null, "scale": {"domain": [0, 160.995], "nice": false, "zero": false}}
      },
      "layer": [
        {"data": {"values": [{}]},
         "mark": {"type": "text", "text": "CSN", "font": "Liberation Sans", "fontSize": 52, "fontWeight": "bold", "fontStyle": "italic", "align": "left", "baseline": "alphabetic", "color": "#f5f5f5"},
         "encoding": {"x": {"datum": 88.6}, "y": {"datum": -0.0236, "type": "quantitative", "title": null, "axis": {"values": [-0.06, -0.04, -0.02, 0, 0.02, 0.04, 0.06], "format": ".2f", "labelOverlap": false}}}},
        {"data": {"values": [{}]},
         "mark": {"type": "text", "text": "CENTRO SISMOLÓGICO NACIONAL", "font": "Liberation Sans", "fontSize": 13, "fontStyle": "italic", "align": "left", "baseline": "alphabetic", "color": "#f5f5f5"},
         "encoding": {"x": {"datum": 106.9}, "y": {"datum": -0.0382, "type": "quantitative", "title": null, "axis": {"values": [-0.06, -0.04, -0.02, 0, 0.02, 0.04, 0.06], "format": ".2f", "labelOverlap": false}}}},
        {"data": {"values": [{}]},
         "mark": {"type": "text", "text": "UNIVERSIDAD DE CHILE", "font": "Liberation Sans", "fontSize": 13, "fontStyle": "italic", "align": "left", "baseline": "alphabetic", "color": "#f5f5f5"},
         "encoding": {"x": {"datum": 105.9}, "y": {"datum": -0.0508, "type": "quantitative", "title": null, "axis": {"values": [-0.06, -0.04, -0.02, 0, 0.02, 0.04, 0.06], "format": ".2f", "labelOverlap": false}}}},
        {
          "data": {"name": "Z"},
          "mark": {"type": "area", "interpolate": "step"},
          "encoding": {
            "y": {"field": "h", "type": "quantitative", "title": null,
                  "scale": {"domain": [-0.0656, 0.0631], "nice": false, "zero": false},
                  "axis": {"values": [-0.06, -0.04, -0.02, 0, 0.02, 0.04, 0.06], "format": ".2f", "labelOverlap": false}},
            "y2": {"field": "l"},
            "color": {"datum": "C1.R08M..HNZ", "type": "nominal", "scale": {"range": ["#454545"]},
                      "legend": {"orient": "none", "legendX": 10, "legendY": 7, "title": null, "symbolSize": 0, "symbolStrokeWidth": 0, "symbolOpacity": 0, "labelOffset": -12}}
          }
        }
      ]
    },
    {
      "width": 680,
      "height": 216,
      "encoding": {
        "x": {"field": "t", "type": "quantitative", "axis": null, "scale": {"domain": [0, 160.995], "nice": false, "zero": false}}
      },
      "layer": [
        {"data": {"values": [{}]},
         "mark": {"type": "text", "text": "CSN", "font": "Liberation Sans", "fontSize": 52, "fontWeight": "bold", "fontStyle": "italic", "align": "left", "baseline": "alphabetic", "color": "#f5f5f5"},
         "encoding": {"x": {"datum": 88.6}, "y": {"datum": -0.0261, "type": "quantitative", "title": null, "axis": {"values": [-0.06, -0.04, -0.02, 0, 0.02, 0.04, 0.06], "format": ".2f", "labelOverlap": false}}}},
        {"data": {"values": [{}]},
         "mark": {"type": "text", "text": "CENTRO SISMOLÓGICO NACIONAL", "font": "Liberation Sans", "fontSize": 13, "fontStyle": "italic", "align": "left", "baseline": "alphabetic", "color": "#f5f5f5"},
         "encoding": {"x": {"datum": 106.9}, "y": {"datum": -0.041, "type": "quantitative", "title": null, "axis": {"values": [-0.06, -0.04, -0.02, 0, 0.02, 0.04, 0.06], "format": ".2f", "labelOverlap": false}}}},
        {"data": {"values": [{}]},
         "mark": {"type": "text", "text": "UNIVERSIDAD DE CHILE", "font": "Liberation Sans", "fontSize": 13, "fontStyle": "italic", "align": "left", "baseline": "alphabetic", "color": "#f5f5f5"},
         "encoding": {"x": {"datum": 105.9}, "y": {"datum": -0.0539, "type": "quantitative", "title": null, "axis": {"values": [-0.06, -0.04, -0.02, 0, 0.02, 0.04, 0.06], "format": ".2f", "labelOverlap": false}}}},
        {
          "data": {"name": "N"},
          "mark": {"type": "area", "interpolate": "step"},
          "encoding": {
            "y": {"field": "h", "type": "quantitative", "title": null,
                  "scale": {"domain": [-0.0672, 0.0614], "nice": false, "zero": false},
                  "axis": {"values": [-0.06, -0.04, -0.02, 0, 0.02, 0.04, 0.06], "format": ".2f", "labelOverlap": false}},
            "y2": {"field": "l"},
            "color": {"datum": "C1.R08M..HNN", "type": "nominal", "scale": {"range": ["#454545"]},
                      "legend": {"orient": "none", "legendX": 10, "legendY": 7, "title": null, "symbolSize": 0, "symbolStrokeWidth": 0, "symbolOpacity": 0, "labelOffset": -12}}
          }
        }
      ]
    },
    {
      "width": 680,
      "height": 217,
      "encoding": {
        "x": {"field": "t", "type": "quantitative", "title": null,
              "scale": {"domain": [0, 160.995], "nice": false, "zero": false},
              "axis": {"values": [4, 34, 64, 94, 124, 154], "labelFlush": false, "labelOverlap": false,
                       "labelExpr": "datum.value == 4 ? '2024-11-03T04:04:30' : datum.value == 34 ? '04:05:00' : datum.value == 64 ? '04:05:30' : datum.value == 94 ? '04:06:00' : datum.value == 124 ? '04:06:30' : '04:07:00'"}}
      },
      "layer": [
        {"data": {"values": [{}]},
         "mark": {"type": "text", "text": "CSN", "font": "Liberation Sans", "fontSize": 52, "fontWeight": "bold", "fontStyle": "italic", "align": "left", "baseline": "alphabetic", "color": "#f5f5f5"},
         "encoding": {"x": {"datum": 88.6}, "y": {"datum": -0.0219, "type": "quantitative", "title": null, "axis": {"values": [-0.06, -0.04, -0.02, 0, 0.02, 0.04, 0.06], "format": ".2f", "labelOverlap": false}}}},
        {"data": {"values": [{}]},
         "mark": {"type": "text", "text": "CENTRO SISMOLÓGICO NACIONAL", "font": "Liberation Sans", "fontSize": 13, "fontStyle": "italic", "align": "left", "baseline": "alphabetic", "color": "#f5f5f5"},
         "encoding": {"x": {"datum": 106.9}, "y": {"datum": -0.0367, "type": "quantitative", "title": null, "axis": {"values": [-0.06, -0.04, -0.02, 0, 0.02, 0.04, 0.06], "format": ".2f", "labelOverlap": false}}}},
        {"data": {"values": [{}]},
         "mark": {"type": "text", "text": "UNIVERSIDAD DE CHILE", "font": "Liberation Sans", "fontSize": 13, "fontStyle": "italic", "align": "left", "baseline": "alphabetic", "color": "#f5f5f5"},
         "encoding": {"x": {"datum": 105.9}, "y": {"datum": -0.0484, "type": "quantitative", "title": null, "axis": {"values": [-0.06, -0.04, -0.02, 0, 0.02, 0.04, 0.06], "format": ".2f", "labelOverlap": false}}}},
        {
          "data": {"name": "E"},
          "mark": {"type": "area", "interpolate": "step"},
          "encoding": {
            "y": {"field": "h", "type": "quantitative", "title": null,
                  "scale": {"domain": [-0.0624, 0.0659], "nice": false, "zero": false},
                  "axis": {"values": [-0.06, -0.04, -0.02, 0, 0.02, 0.04, 0.06], "format": ".2f", "labelOverlap": false}},
            "y2": {"field": "l"},
            "color": {"datum": "C1.R08M..HNE", "type": "nominal", "scale": {"range": ["#454545"]},
                      "legend": {"orient": "none", "legendX": 10, "legendY": 7, "title": null, "symbolSize": 0, "symbolStrokeWidth": 0, "symbolOpacity": 0, "labelOffset": -12}}
          }
        }
      ]
    }
  ],
  "spacing": 0,
  "resolve": {"scale": {"y": "independent", "color": "independent"}, "legend": {"color": "independent"}},
  "config": {
    "font": "DejaVu Sans",
    "view": {"stroke": "#444", "strokeWidth": 1},
    "axis": {
      "grid": false,
      "domainColor": "#444",
      "tickColor": "#444",
      "tickSize": 5,
      "labelPadding": 4,
      "labelFont": "DejaVu Sans",
      "labelFontSize": 11.5,
      "labelColor": "#444",
      "labelFlush": false,
      "labelOverlap": false
    },
    "legend": {
      "padding": 4,
      "strokeColor": "#777",
      "cornerRadius": 3,
      "fillColor": "white",
      "labelFont": "DejaVu Sans",
      "labelFontSize": 11.5,
      "labelColor": "#444"
    }
  }
}
